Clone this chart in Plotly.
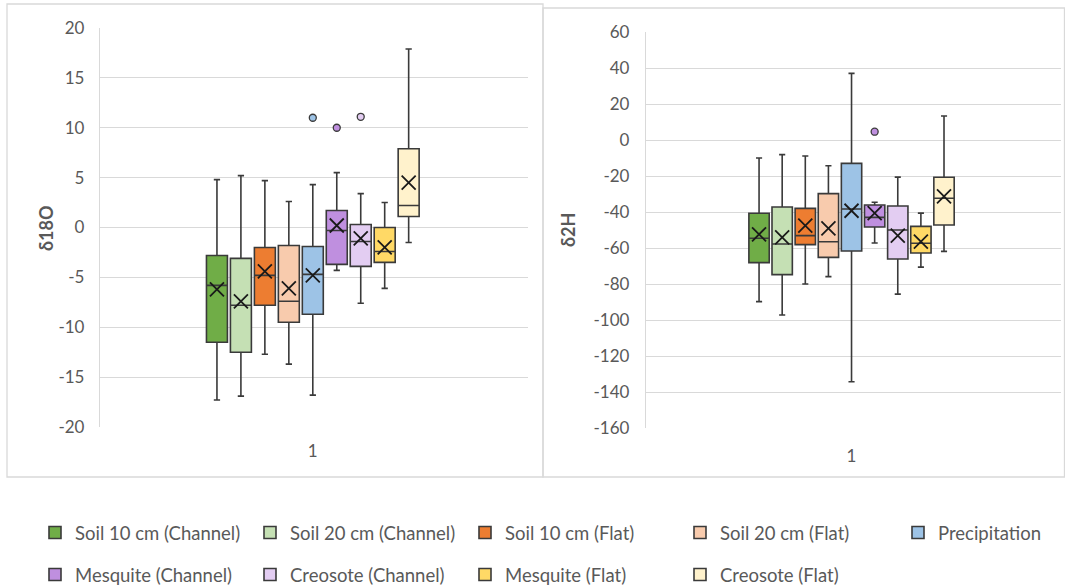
import plotly.graph_objects as go

W, H = 1065, 588

names = ["Soil 10 cm (Channel)", "Soil 20 cm (Channel)", "Soil 10 cm (Flat)",
         "Soil 20 cm (Flat)", "Precipitation", "Mesquite (Channel)",
         "Creosote (Channel)", "Mesquite (Flat)", "Creosote (Flat)"]
colors = ["#70AD47", "#C5E0B4", "#ED7D31", "#F8CBAD", "#9DC3E6",
          "#BF8FDF", "#E3CDF2", "#FFD966", "#FFF2CC"]
legend_of = ["legend", "legend", "legend", "legend", "legend3",
             "legend2", "legend2", "legend2", "legend2"]
category = "1"

# δ18O
o_lower = [-17.3, -16.9, -12.7, -13.7, -16.8, -4.3, -7.6, -6.1, -1.5]
o_q1 = [-11.5, -12.5, -7.8, -9.5, -8.7, -3.7, -3.9, -3.5, 1.1]
o_median = [-5.8, -7.8, -4.8, -7.4, -4.7, -0.3, -1.4, -2.4, 2.2]
o_q3 = [-2.8, -3.1, -2.0, -1.8, -1.9, 1.7, 0.3, 0.0, 7.9]
o_upper = [4.8, 5.2, 4.7, 2.6, 4.3, 5.5, 3.4, 2.5, 17.9]
o_mean = [-6.2, -7.4, -4.4, -6.1, -4.8, 0.2, -1.1, -2.0, 4.5]
o_out_idx = [4, 5, 6]
o_out_val = [11.0, 10.0, 11.1]
o_ticks = [-20, -15, -10, -5, 0, 5, 10, 15, 20]

# δ2H
h_lower = [-89.8, -97.2, -80.0, -75.9, -134.3, -57.2, -85.6, -70.6, -61.9]
h_q1 = [-68.1, -74.8, -58.1, -65.2, -61.7, -48.3, -66.1, -62.8, -47.2]
h_median = [-54.6, -57.8, -53.1, -56.5, -38.3, -43.0, -50.0, -57.4, -32.4]
h_q3 = [-40.7, -37.2, -38.0, -29.8, -13.0, -36.1, -36.7, -48.0, -20.7]
h_upper = [-10.0, -8.1, -8.9, -14.3, 37.0, -34.6, -20.6, -40.6, 13.3]
h_mean = [-52.4, -54.1, -47.6, -49.1, -39.3, -40.6, -53.1, -56.5, -31.3]
h_out_idx = [5]
h_out_val = [4.6]
h_ticks = [-160, -140, -120, -100, -80, -60, -40, -20, 0, 20, 40, 60]

FONT = "Lato, 'Open Sans', sans-serif"
TICKC = "#595959"
GRID = "#D9D9D9"
EDGE = "#3A3A3A"

fig = go.Figure()

def add_panel(xa, ya, lower, q1, med, q3, upper, mean, oidx, oval, width, showleg):
    for i in range(len(names)):
        fig.add_trace(go.Box(
            x=[i], q1=[q1[i]], median=[med[i]], q3=[q3[i]],
            lowerfence=[lower[i]], upperfence=[upper[i]],
            width=width, whiskerwidth=0.3,
            fillcolor=colors[i], line=dict(color=EDGE, width=1.6),
            name=names[i], xaxis=xa, yaxis=ya,
            showlegend=showleg, legend=legend_of[i],
            legendgroup=names[i], hoverinfo="skip"))
    fig.add_trace(go.Scatter(
        x=list(range(len(names))), y=mean, mode="markers", xaxis=xa, yaxis=ya,
        marker=dict(symbol="x-thin", size=14, line=dict(color="#1a1a1a", width=1.8)),
        showlegend=False, hoverinfo="skip"))
    fig.add_trace(go.Scatter(
        x=oidx, y=oval, mode="markers", xaxis=xa, yaxis=ya,
        marker=dict(symbol="circle", size=7, color=[colors[k] for k in oidx],
                    line=dict(color=EDGE, width=1.3)),
        showlegend=False, hoverinfo="skip"))

add_panel("x", "y", o_lower, o_q1, o_median, o_q3, o_upper, o_mean,
          o_out_idx, o_out_val, 0.875, True)
add_panel("x2", "y2", h_lower, h_q1, h_median, h_q3, h_upper, h_mean,
          h_out_idx, h_out_val, 0.88, False)

def px_x(v):
    return v / W

def px_y(v):
    return 1 - v / H

tickfont = dict(family=FONT, size=17, color=TICKC)
legfont = dict(family=FONT, size=18.5, color=TICKC)

def leg(x, y):
    return dict(orientation="h", x=px_x(x), y=px_y(y), xanchor="left", yanchor="middle",
                entrywidth=170, entrywidthmode="pixels", font=legfont, itemwidth=30,
                bgcolor="rgba(0,0,0,0)")

fig.update_layout(
    width=W, height=H, margin=dict(l=0, r=0, t=0, b=0, autoexpand=False),
    paper_bgcolor="white", plot_bgcolor="white",
    font=dict(family=FONT, color=TICKC),
    xaxis=dict(domain=[px_x(100), px_x(528)], range=[-4.88, 12.98],
               tickvals=[4], ticktext=[category], showgrid=False, zeroline=False,
               showline=False, tickfont=tickfont, ticklabelstandoff=12, fixedrange=True),
    yaxis=dict(domain=[px_y(427), px_y(28)], range=[-20, 20],
               tickvals=o_ticks, ticktext=[str(t) for t in o_ticks],
               showgrid=True, gridcolor=GRID, gridwidth=1.3, zeroline=False,
               showline=True, linecolor=GRID, linewidth=1.3,
               tickfont=tickfont, ticklabelstandoff=11),
    xaxis2=dict(domain=[px_x(646), px_x(1061)], range=[-4.89, 13.06],
                tickvals=[4], ticktext=[category], showgrid=False, zeroline=False,
                showline=False, tickfont=tickfont, ticklabelstandoff=16, anchor="y2"),
    yaxis2=dict(domain=[px_y(428), px_y(32)], range=[-160, 60],
                tickvals=h_ticks, ticktext=[str(t) for t in h_ticks],
                showgrid=True, gridcolor=GRID, gridwidth=1.3, zeroline=False,
                showline=True, linecolor=GRID, linewidth=1.3,
                tickfont=tickfont, ticklabelstandoff=12, anchor="x2"),
    legend=leg(35, 533),
    legend2=leg(35, 575),
    legend3=leg(898, 533),
    shapes=[
        dict(type="rect", xref="paper", yref="paper", x0=px_x(7), x1=px_x(543),
             y0=px_y(477), y1=px_y(4), line=dict(color=GRID, width=1.3), layer="below"),
        dict(type="rect", xref="paper", yref="paper", x0=px_x(543), x1=px_x(1064.5),
             y0=px_y(477), y1=px_y(8), line=dict(color=GRID, width=1.3), layer="below"),
    ],
    annotations=[
        dict(text="<b>δ18O</b>", xref="paper", yref="paper", x=px_x(33), y=px_y(228),
             showarrow=False, textangle=-90, font=dict(family=FONT, size=18, color=TICKC)),
        dict(text="<b>δ2H</b>", xref="paper", yref="paper", x=px_x(568), y=px_y(230),
             showarrow=False, textangle=-90, font=dict(family=FONT, size=18, color=TICKC)),
    ],
)

fig.write_html("out.html", config={"displayModeBar": False},
               post_script="document.body.style.margin='0';document.body.style.padding='0';"
                           "document.documentElement.style.overflow='hidden';")
